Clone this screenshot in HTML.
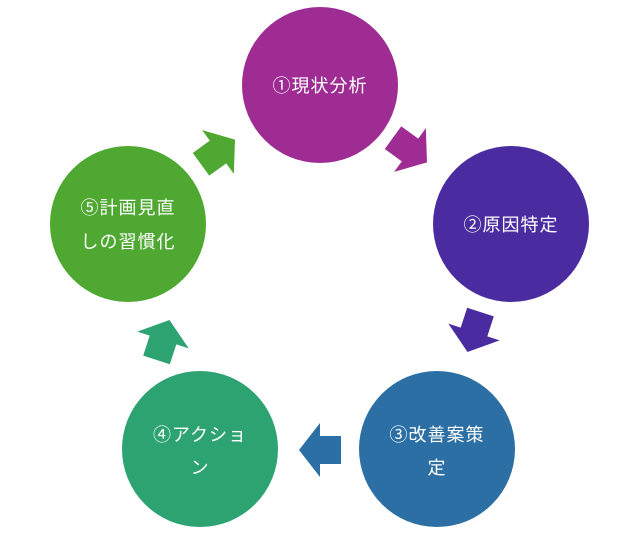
<!DOCTYPE html>
<html><head><meta charset="utf-8"><style>
body{margin:0;background:#fff;width:623px;height:540px;overflow:hidden}
text{font-family:"Liberation Sans","Noto Sans CJK JP",sans-serif;font-size:18px;fill:#fff;text-anchor:middle;letter-spacing:1px}
</style></head><body>
<svg width="623" height="540" viewBox="0 0 623 540">
<defs><polygon id="ar" points="-21,-14 0,-14 0,-27 21,0 0,27 0,14 -21,14"/></defs>
<circle cx="320" cy="85" r="78" fill="#9E2C93"/>
<circle cx="511" cy="224" r="78" fill="#4B2CA0"/>
<circle cx="437" cy="449" r="78" fill="#2C6FA4"/>
<circle cx="200" cy="449" r="78" fill="#2DA371"/>
<circle cx="128" cy="224" r="78" fill="#4FA832"/>
<use href="#ar" fill="#9E2C93" transform="translate(410,150) rotate(36)"/>
<use href="#ar" fill="#4B2CA0" transform="translate(474,332) rotate(108)"/>
<use href="#ar" fill="#2C6FA4" transform="translate(320,450) rotate(180)"/>
<use href="#ar" fill="#2DA371" transform="translate(163,340) rotate(-72)"/>
<use href="#ar" fill="#4FA832" transform="translate(218,152) rotate(-36)"/>
<text x="320" y="92">①現状分析</text>
<text x="511" y="231">②原因特定</text>
<text x="437" y="441">③改善案策</text>
<text x="437" y="474">定</text>
<text x="200" y="441">④アクショ</text>
<text x="200" y="474">ン</text>
<text x="128" y="214">⑤計画見直</text>
<text x="128" y="248">しの習慣化</text>
</svg>
</body></html>
